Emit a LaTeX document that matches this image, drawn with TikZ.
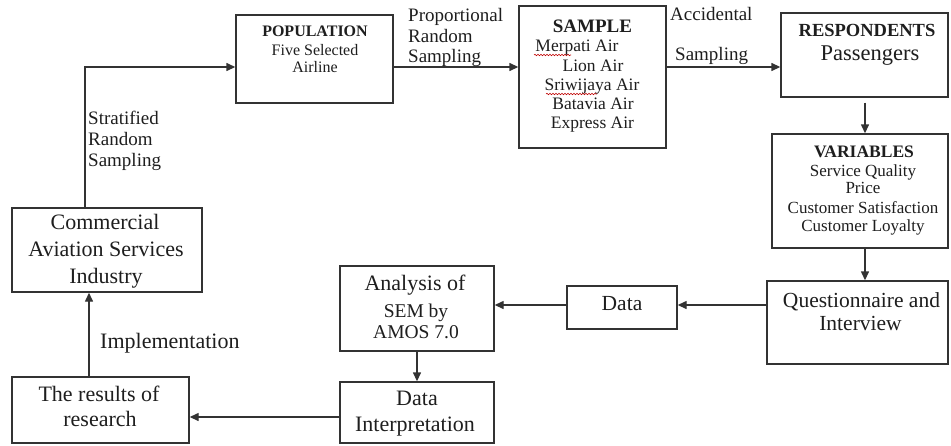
\documentclass[tikz,border=0pt]{standalone}
\usepackage{fontspec}
\setmainfont{Liberation Serif}
\usetikzlibrary{arrows.meta,decorations.pathmorphing}
\newcommand\myfs[1]{\fontsize{#1}{#1}\selectfont}
\definecolor{linec}{HTML}{333333}
\definecolor{textc}{HTML}{1E1E1E}
\tikzset{
  box/.style={draw=linec, line width=1.4pt, inner sep=0pt, rectangle},
  arr/.style={draw=linec, line width=1.4pt, -{Triangle[length=9pt,width=8pt]}},
  txt/.style={inner sep=0pt, anchor=base, text=textc},
  ltxt/.style={inner sep=0pt, anchor=base west, text=textc},
  squig/.style={draw=red!75!black, line width=0.6pt, decorate, decoration={snake, amplitude=0.7pt, segment length=3pt}}
}
\begin{document}
\begin{tikzpicture}[x=1pt,y=-1pt]
\useasboundingbox (0,0) rectangle (951,445);
\fill[white] (0,0) rectangle (951,445);
% boxes
\node[box, minimum width=157pt, minimum height=88pt] (pop) at (314.5,59) {};
\node[box, minimum width=147pt, minimum height=142pt] (sam) at (592.5,77) {};
\node[box, minimum width=167pt, minimum height=84pt] (res) at (864.5,55) {};
\node[box, minimum width=176pt, minimum height=114pt] (var) at (860,191) {};
\node[box, minimum width=181pt, minimum height=83pt] (que) at (857.5,322.5) {};
\node[box, minimum width=110pt, minimum height=43pt] (dat) at (622,307.5) {};
\node[box, minimum width=154pt, minimum height=85pt] (ana) at (417,308.5) {};
\node[box, minimum width=154pt, minimum height=61pt] (int) at (417,412.5) {};
\node[box, minimum width=177pt, minimum height=66pt] (resl) at (100.5,410) {};
\node[box, minimum width=190pt, minimum height=84pt] (com) at (107,250) {};
% helper coordinates
\coordinate (c1) at (85,67);
\coordinate (c2) at (865,0);
\coordinate (c3) at (0,305);
\coordinate (c4) at (0,417);
\coordinate (c5) at (89,0);
% connectors
\draw[arr] (com.north -| c1) -- (c1) -- (pop.west |- c1);
\draw[arr] (pop.east |- c1) -- (sam.west |- c1);
\draw[arr] (sam.east |- c1) -- (res.west |- c1);
\draw[arr, shorten <=5pt] (res.south -| c2) -- (var.north -| c2);
\draw[arr] (var.south -| c2) -- (que.north -| c2);
\draw[arr] (que.west |- c3) -- (dat.east |- c3);
\draw[arr] (dat.west |- c3) -- (ana.east |- c3);
\draw[arr] (ana.south) -- (int.north);
\draw[arr] (int.west |- c4) -- (resl.east |- c4);
\draw[arr] (resl.north -| c5) -- (com.south -| c5);
% texts
\node[txt, font=\myfs{16}\bfseries] (popt) at (315,36.5) {POPULATION};
\node[txt, font=\myfs{16}] (popa) at (315,55) {Five Selected};
\node[txt, font=\myfs{16}] (popb) at (315,72.5) {Airline};
\node[ltxt, font=\myfs{19}] (pl1) at (408,21) {Proportional};
\node[ltxt, font=\myfs{19}] (pl2) at (408,42) {Random};
\node[ltxt, font=\myfs{19}] (pl3) at (408,62) {Sampling};
\node[txt, font=\myfs{19}\bfseries] (samt) at (592.5,32.5) {SAMPLE};
\node[txt, font=\myfs{17.5}] (sa1) at (577,51.5) {Merpati Air};
\node[txt, font=\myfs{17.5}] (sa2) at (593,71) {Lion Air};
\node[txt, font=\myfs{17.5}] (sa3) at (592,90) {Sriwijaya Air};
\node[txt, font=\myfs{17.5}] (sa4) at (593,109.5) {Batavia Air};
\node[txt, font=\myfs{17.5}] (sa5) at (592.5,128) {Express Air};
\draw[squig] (534,55) -- (571,55);
\draw[squig] (546,94) -- (597,94);
\node[ltxt, font=\myfs{19}] (al1) at (670,20) {Accidental};
\node[ltxt, font=\myfs{19}] (al2) at (675,60) {Sampling};
\node[txt, font=\myfs{18.5}\bfseries] (rest) at (867,36) {RESPONDENTS};
\node[txt, font=\myfs{22.5}] (resa) at (870,60) {Passengers};
\node[txt, font=\myfs{17.5}\bfseries] (vart) at (864,157) {VARIABLES};
\node[txt, font=\myfs{17}] (va1) at (863,176) {Service Quality};
\node[txt, font=\myfs{17}] (va2) at (863,193.5) {Price};
\node[txt, font=\myfs{17}] (va3) at (863,213) {Customer Satisfaction};
\node[txt, font=\myfs{17}] (va4) at (863,231.5) {Customer Loyalty};
\node[txt, font=\myfs{21.5}] (qu1) at (861.5,307) {Questionnaire and};
\node[txt, font=\myfs{21.5}] (qu2) at (860.5,330) {Interview};
\node[txt, font=\myfs{21.5}] (da1) at (622,310.5) {Data};
\node[txt, font=\myfs{22}] (an1) at (415,290) {Analysis of};
\node[txt, font=\myfs{19.5}] (an2) at (416,317) {SEM by};
\node[txt, font=\myfs{19.5}] (an3) at (416,338) {AMOS 7.0};
\node[txt, font=\myfs{22}] (in1) at (417,405) {Data};
\node[txt, font=\myfs{22}] (in2) at (415,431.5) {Interpretation};
\node[txt, font=\myfs{22}] (re1) at (99,401.5) {The results of};
\node[txt, font=\myfs{22}] (re2) at (100,426.5) {research};
\node[txt, font=\myfs{22}] (co1) at (105,229) {Commercial};
\node[txt, font=\myfs{22}] (co2) at (106,256.5) {Aviation Services};
\node[txt, font=\myfs{22}] (co3) at (106,283) {Industry};
\node[ltxt, font=\myfs{19}] (st1) at (88,124) {Stratified};
\node[ltxt, font=\myfs{19}] (st2) at (88,145.5) {Random};
\node[ltxt, font=\myfs{19}] (st3) at (88,166) {Sampling};
\node[ltxt, font=\myfs{22}] (imp) at (100,348) {Implementation};
\end{tikzpicture}
\end{document}
